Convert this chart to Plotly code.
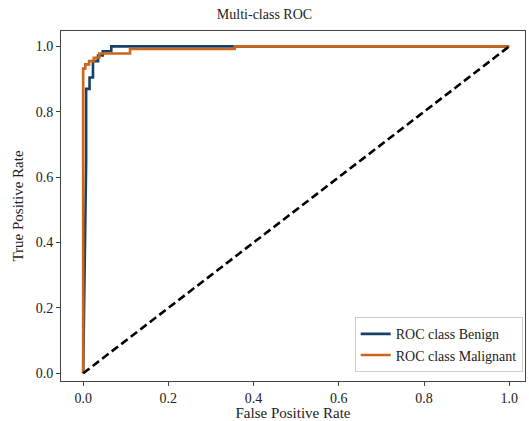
import plotly.graph_objects as go

benign_fpr = [0.0, 0.007, 0.007, 0.015, 0.015, 0.023, 0.023, 0.035, 0.035, 0.046, 0.046, 0.066, 0.066, 1.0]
benign_tpr = [0.0, 0.645, 0.87, 0.87, 0.905, 0.905, 0.955, 0.955, 0.972, 0.972, 0.985, 0.985, 1.0, 1.0]

malig_fpr = [0.0, 0.0, 0.005, 0.005, 0.014, 0.014, 0.025, 0.025, 0.038, 0.038, 0.11, 0.11, 0.356, 0.356, 1.0]
malig_tpr = [0.0, 0.932, 0.932, 0.945, 0.945, 0.955, 0.955, 0.965, 0.965, 0.978, 0.978, 0.992, 0.992, 1.0, 1.0]

chance = [0.0, 1.0]

x_ticks = [0.0, 0.2, 0.4, 0.6, 0.8, 1.0]
y_ticks = [0.0, 0.2, 0.4, 0.6, 0.8, 1.0]

FONT = "Liberation Serif, Times New Roman, serif"

fig = go.Figure()
fig.add_trace(go.Scatter(x=benign_fpr, y=benign_tpr, mode="lines",
                         line=dict(color="#15406a", width=2.6),
                         name="ROC class Benign"))
fig.add_trace(go.Scatter(x=malig_fpr, y=malig_tpr, mode="lines",
                         line=dict(color="#cc661c", width=2.6),
                         name="ROC class Malignant"))
fig.add_trace(go.Scatter(x=chance, y=chance, mode="lines",
                         line=dict(color="black", width=2.6, dash="8px,4px"),
                         showlegend=False))

axis_common = dict(showline=True, linecolor="#444", linewidth=1, mirror=True,
                   ticks="outside", ticklen=4, tickcolor="#444", tickwidth=1,
                   showgrid=False, zeroline=False,
                   tickfont=dict(family=FONT, size=14, color="#222"))

fig.update_layout(
    width=529, height=421,
    paper_bgcolor="white", plot_bgcolor="white",
    margin=dict(l=61, r=4, t=31, b=40, autoexpand=False),
    title=dict(text="Multi-class ROC", x=0.5, xanchor="center",
               y=0.967, yanchor="middle",
               font=dict(family=FONT, size=14, color="#222")),
    font=dict(family=FONT, size=14, color="#222"),
    xaxis=dict(range=[-0.052, 1.037], tickvals=x_ticks, ticktext=[f"{v:.1f}" for v in x_ticks],
               title=dict(text="False Positive Rate", standoff=6,
                          font=dict(family=FONT, size=15, color="#222")),
               **axis_common),
    yaxis=dict(range=[-0.0235, 1.047], tickvals=y_ticks, ticktext=[f"{v:.1f}" for v in y_ticks],
               title=dict(text="True Positive Rate", standoff=8,
                          font=dict(family=FONT, size=15, color="#222")),
               **axis_common),
    legend=dict(x=0.995, y=0.025, xanchor="right", yanchor="bottom",
                bgcolor="white", bordercolor="#cccccc", borderwidth=1,
                font=dict(family=FONT, size=14, color="#222"),
                tracegroupgap=0),
)

fig.write_html("out.html", config={"displayModeBar": False},
               post_script="document.body.style.margin='0';document.body.style.overflow='hidden';")
